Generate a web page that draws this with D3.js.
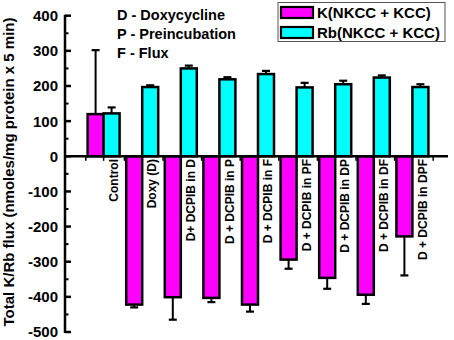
<!DOCTYPE html>
<html><head><meta charset="utf-8">
<script src="https://cdn.jsdelivr.net/npm/d3@7"></script>
<style>
html,body{margin:0;padding:0;background:#fff;}
svg text{font-family:"Liberation Sans",Arial,sans-serif;font-weight:bold;fill:#000;}
</style></head>
<body><svg id="c" width="454" height="340"></svg>
<script>
const categories = ["Control","Doxy (D)","D+ DCPIB in D","D + DCPIB in P","D + DCPIB in F","D + DCPIB in PF","D + DCPIB in DP","D + DCPIB in DF","D + DCPIB in DPF"];
const seriesNames = ["K(NKCC + KCC)","Rb(NKCC + KCC)"];
const seriesColors = ["#FF00FF","#00FFFF"];
const kValues = [120, -422, -401, -403, -422, -294, -346, -394, -228];
const kErrors = [182, 8, 64, 12, 20, 26, 31, 26, 111];
const rbValues = [122, 197, 250, 219, 234, 196, 205, 224, 197];
const rbErrors = [17, 5, 8, 6, 9, 13, 10, 6, 8];
const yTicks = [400, 300, 200, 100, 0, -100, -200, -300, -400, -500];
const yMinorTicks = [350, 250, 150, 50, -50, -150, -250, -350, -450];
const notes = ["D - Doxycycline","P - Preincubation","F - Flux"];
const yTitle = "Total K/Rb flux (nmoles/mg protein x 5 min)";

const svg = d3.select("#c");
const axisX = 65;
const y = d3.scaleLinear().domain([-500, 400]).range([332, 15.7]);
const x = d3.scaleBand().domain(categories).range([84.3, 431.7]).paddingInner(0).paddingOuter(0);
const sub = d3.scaleBand().domain([0,1]).range([0, 32]);
const series = [
  {vals: kValues, errs: kErrors},
  {vals: rbValues, errs: rbErrors}
];
const center = c => x(c) + x.bandwidth()/2;

// x-axis zero line ticks
const xt = svg.append("g");
const boundaries = d3.range(categories.length + 1).map(i => 84.3 + i * x.step() + 1.5);
boundaries.forEach(b => xt.append("line").attr("x1", b).attr("x2", b).attr("y1", y(0)).attr("y2", y(0)+4.5).attr("stroke","#000").attr("stroke-width",1.5));
categories.forEach(c => xt.append("line").attr("x1", center(c)).attr("x2", center(c)).attr("y1", y(0)).attr("y2", y(0)+4.5).attr("stroke","#000").attr("stroke-width",1.5));

// bars
series.forEach((s, si) => {
  const g = svg.append("g");
  categories.forEach((c, i) => {
    const v = s.vals[i];
    const x0 = center(c) - 16 + sub(si);
    const xm = x0 + sub.bandwidth()/2;
    const e = s.errs[i];
    const ye = v >= 0 ? y(v + e) : y(v - e);
    g.append("line").attr("x1", xm).attr("x2", xm).attr("y1", y(v)).attr("y2", ye).attr("stroke","#000").attr("stroke-width",2);
    g.append("line").attr("x1", xm-4).attr("x2", xm+4).attr("y1", ye).attr("y2", ye).attr("stroke","#000").attr("stroke-width",2.2);
    g.append("rect").attr("x", x0).attr("width", sub.bandwidth())
      .attr("y", Math.min(y(v), y(0))).attr("height", Math.abs(y(v) - y(0)))
      .attr("fill", seriesColors[si]).attr("stroke","#000").attr("stroke-width",2.5);
  });
});

// zero line
svg.append("line").attr("x1", axisX).attr("x2", 448).attr("y1", y(0)).attr("y2", y(0)).attr("stroke","#000").attr("stroke-width",2.5);

// y axis
const ya = svg.append("g");
ya.append("line").attr("x1", axisX).attr("x2", axisX).attr("y1", y(400)-1).attr("y2", y(-500)+1).attr("stroke","#000").attr("stroke-width",2.5);
yTicks.forEach(t => {
  ya.append("line").attr("x1", axisX).attr("x2", axisX+6).attr("y1", y(t)).attr("y2", y(t)).attr("stroke","#000").attr("stroke-width",2.5);
  ya.append("text").attr("x", 58).attr("y", y(t)).attr("dy","0.36em").attr("text-anchor","end").attr("font-size","15px").text(t);
});
yMinorTicks.forEach(t => {
  ya.append("line").attr("x1", axisX).attr("x2", axisX+3.5).attr("y1", y(t)).attr("y2", y(t)).attr("stroke","#000").attr("stroke-width",2);
});

// category labels
categories.forEach(c => {
  svg.append("text").attr("transform", `translate(${center(c)+10},159) rotate(-90)`)
    .attr("dy","0.35em").attr("text-anchor","end").attr("font-size","12px").text(c);
});

// y title
svg.append("text").attr("transform", `translate(9,172) rotate(-90)`).attr("dy","0.35em")
  .attr("text-anchor","middle").attr("font-size","15px").text(yTitle);

// notes
notes.forEach((n, i) => svg.append("text").attr("x", 117).attr("y", 20 + i*18.8).attr("font-size","14.5px").text(n));

// legend
const lg = svg.append("g");
lg.append("rect").attr("x", 278).attr("y", 2.5).attr("width", 167).attr("height", 39).attr("fill","#fff").attr("stroke","#555").attr("stroke-width",1);
seriesNames.forEach((n, i) => {
  lg.append("rect").attr("x", 281).attr("y", 7 + i*20).attr("width", 32).attr("height", 11)
    .attr("fill", seriesColors[i]).attr("stroke","#000").attr("stroke-width",2.2);
  lg.append("text").attr("x", 317).attr("y", 18.3 + i*20).attr("font-size","15px").text(n);
});
</script></body></html>
